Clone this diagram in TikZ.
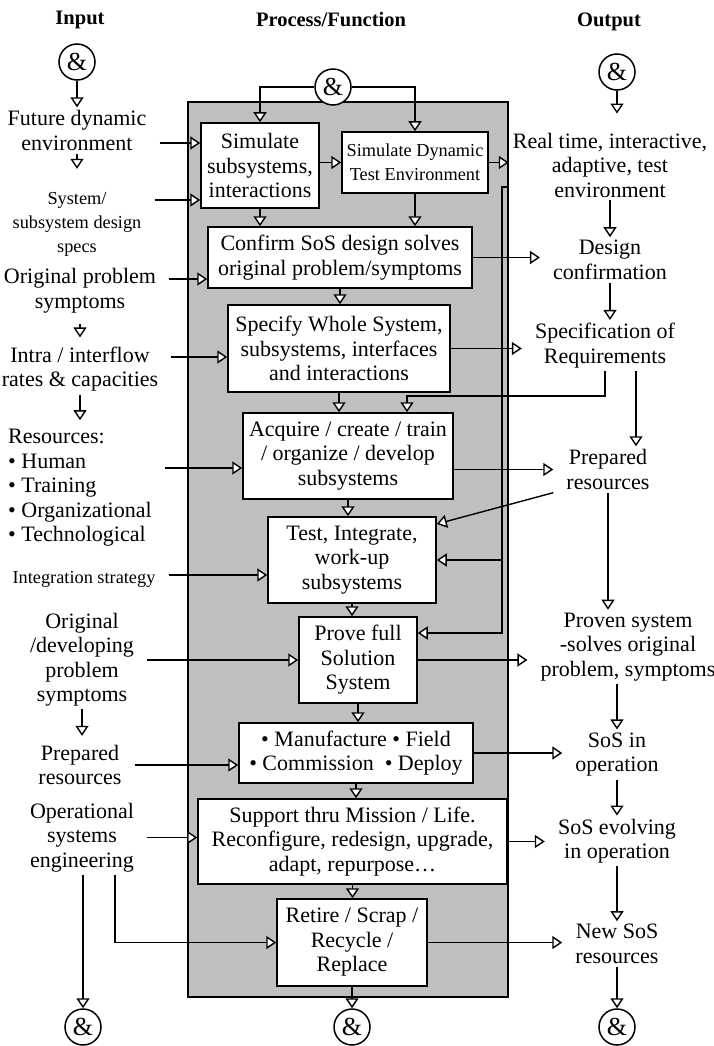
\documentclass[tikz,border=0pt]{standalone}
\usepackage{fontspec}
\setmainfont{Liberation Serif}
\usetikzlibrary{arrows.meta}
\usetikzlibrary{positioning}

\begin{document}
\begin{tikzpicture}[x=1pt,y=-1pt,
    txt/.style={align=center,font=\fontsize{22}{24.5}\selectfont,inner xsep=13pt,inner ysep=3pt},
    sml/.style={font=\fontsize{18.3}{24}\selectfont},
    ttl/.style={font=\bfseries\fontsize{20.5}{24}\selectfont},
    box/.style={txt,draw,fill=white,line width=1.5pt,inner sep=0pt},
    amp/.style={circle,draw,fill=white,line width=1.5pt,minimum size=36pt,inner sep=0pt,font=\fontsize{26}{26}\selectfont},
    ln/.style={line width=1.4pt},
    arr/.style={ln,-{Triangle[fill=white,length=10pt,width=13pt]}}]
  \useasboundingbox (0,0) rectangle (714,1046);
  \node[draw,fill=gray!50,line width=1.5pt,minimum width=320pt,minimum height=895pt,inner sep=0pt] (proc) at (348,549.5) {};

  \node[ttl] (tin) at (80,20) {Input};
  \node[ttl] (tproc) at (331,20) {Process/Function};
  \node[ttl] (tout) at (609,22) {Output};

  \node[amp] (ain) at (77,62) {\&};
  \node[amp] (aproc) at (333,87) {\&};
  \node[amp] (aout) at (617,72) {\&};
  \node[amp] (ainb) at (83,1027) {\&};
  \node[amp] (aprocb) at (352,1027) {\&};
  \node[amp] (aoutb) at (617,1027) {\&};

  % process boxes
  \node[box,minimum width=118pt,minimum height=85pt] (b1) at (260,165.5) {Simulate\\subsystems,\\interactions};
  \node[box,sml,minimum width=146pt,minimum height=61pt] (b2) at (415,162.5) {Simulate Dynamic\\Test Environment};
  \node[box,minimum width=264pt,minimum height=61pt] (b3) at (340,257.5) {Confirm SoS design solves\\original problem/symptoms};
  \node[box,minimum width=222pt,minimum height=87pt] (b4) at (339,348.5) {Specify Whole System,\\subsystems, interfaces\\and interactions};
  \node[box,minimum width=210pt,minimum height=86pt] (b5) at (348,456) {Acquire / create / train\\/ organize / develop\\subsystems};
  \node[box,minimum width=168pt,minimum height=86pt] (b6) at (352,560) {Test, Integrate,\\work-up\\subsystems};
  \node[box,minimum width=118pt,minimum height=86pt] (b7) at (358,660) {Prove full\\Solution\\System};
  \node[box,minimum width=234pt,minimum height=60pt] (b8) at (356,753) {\textbullet{} Manufacture \textbullet{} Field\\\textbullet{} Commission\ \ \textbullet{} Deploy};
  \node[box,minimum width=309pt,minimum height=85pt] (b9) at (352.5,841.5) {Support thru Mission / Life.\\Reconfigure, redesign, upgrade,\\adapt, repurpose…};
  \node[box,minimum width=150pt,minimum height=87pt] (b10) at (352,942.5) {Retire / Scrap /\\Recycle /\\Replace};

  % inputs
  \node[txt] (fde) at (77,130.5) {Future dynamic\\environment};
  \node[txt,sml] (sds) at (77,224) {System/\\subsystem design\\specs};
  \node[txt] (ops) at (80,290.5) {Original problem\\symptoms};
  \node[txt] (iic) at (80,369) {Intra / interflow\\rates \& capacities};
  \node[txt,align=left,anchor=west] (res) at (-5,488) {Resources:\\\textbullet{} Human\\\textbullet{} Training\\\textbullet{} Organizational\\\textbullet{} Technological};
  \node[txt,sml] (ist) at (84,579) {Integration strategy};
  \node[txt] (odp) at (82,659.5) {Original\\/developing\\problem\\symptoms};
  \node[txt] (prl) at (80,765) {Prepared\\resources};
  \node[txt] (ose) at (82,837.5) {Operational\\systems\\engineering};

  % outputs
  \node[txt] (rti) at (610,165) {Real time, interactive,\\adaptive, test\\environment};
  \node[txt] (dcf) at (610,260) {Design\\confirmation};
  \node[txt] (sor) at (605,345.5) {Specification of\\Requirements};
  \node[txt] (prr) at (608,469.5) {Prepared\\resources};
  \node[txt] (prv) at (628,647) {Proven system\\-solves original\\problem, symptoms};
  \node[txt] (sio) at (617,754.5) {SoS in\\operation};
  \node[txt] (sev) at (617,841) {SoS evolving\\in operation};
  \node[txt] (nsr) at (617,944) {New SoS\\resources};

  \draw[arr] (aproc.west) -| (b1.north);
  \draw[arr] (aproc.east) -| (b2.north);
  \draw[arr] (b1.east |- b2.west) -- (b2.west);
  \draw[arr] (b2.east) -- (b2.east -| proc.east);
  \draw[arr] (b1.south) -- (b1.south |- b3.north);
  \draw[arr] (b2.south) -- (b2.south |- b3.north);
  \draw[arr] (b3.south) -- (b3.south |- b4.north);
  \draw[arr] (b4.south) -- (b4.south |- b5.north);
  \draw[arr] (b5.south) -- (b5.south |- b6.north);
  \draw[arr] (b6.south) -- (b6.south |- b7.north);
  \draw[arr] (b7.south) -- (b7.south |- b8.north);
  \draw[arr] (b8.south) -- (b8.south |- b9.north);
  \draw[arr] (b9.south) -- (b9.south |- b10.north);
  \draw[arr] (b10.south) -- (aprocb.north);

  \coordinate (fb) at (502,187);
  \draw[arr] (proc.east |- fb) -- (fb) |- (b7.east |- 0,633);
  \draw[arr] (fb |- b6.east) -- (b6.east);

  \draw[arr] (ain.south) -- (ain.south |- fde.north);
  \draw[arr,shorten >=20pt] (fde.south) -- (fde.south |- sds.north);
  \draw[arr,shorten <=8pt,shorten >=6pt] (ops.south) -- (ops.south |- iic.north);
  \draw[arr,shorten >=6pt] (iic.south) -- (iic.south |- res.north);
  \draw[arr,shorten >=6pt] (odp.south) -- (odp.south |- prl.north);
  \draw[arr] (fde.east |- 0,143) -- (b1.west |- 0,143);
  \draw[arr] (sds.east |- 0,200) -- (b1.west |- 0,200);
  \draw[arr] (ops.east |- 0,279) -- (b3.west |- 0,279);
  \draw[arr] (iic.east |- 0,357) -- (b4.west |- 0,357);
  \draw[arr] (res.east |- 0,468) -- (b5.west |- 0,468);
  \draw[arr] (ist.east |- 0,575) -- (b6.west |- 0,575);
  \draw[arr] (odp.east |- b7.west) -- (b7.west);
  \draw[arr] (prl.east) -- (prl.east -| b8.west);
  \draw[arr] (ose.east) -- (ose.east -| b9.west);
  \draw[arr] (ose.south -| 115,0) |- (b10.west);
  \draw[arr] (ose.south -| ainb.north) -- (ainb.north);

  \draw[arr,shorten >=16pt] (aout.south) -- (aout.south |- rti.north);
  \draw[arr] (rti.south) -- (rti.south |- dcf.north);
  \draw[arr] (dcf.south) -- (dcf.south |- sor.north);
  \draw[arr] (sor.south -| 636,0) -- (prr.north -| 636,0);
  \draw[arr] (sor.south) -- (sor.south |- 0,396) -| (b5.north -| 407,0);
  \draw[arr] (prr.south) -- (prr.south |- prv.north);
  \draw[arr] (prr.south west) -- (b6.east |- 0,524);
  \draw[arr] (prv.south -| sio.north) -- (sio.north);
  \draw[arr] (sio.south) -- (sev.north);
  \draw[arr] (sev.south) -- (nsr.north);
  \draw[arr] (nsr.south) -- (aoutb.north);
  \draw[arr] (b3.east) -- (b3.east -| dcf.west);
  \draw[arr] (b4.east) -- (b4.east -| sor.west);
  \draw[arr] (b5.east |- prr.west) -- (prr.west);
  \draw[arr] (b7.east) -- (b7.east -| prv.west);
  \draw[arr] (b8.east) -- (b8.east -| sio.west);
  \draw[arr] (b9.east) -- (b9.east -| sev.west);
  \draw[arr] (b10.east) -- (b10.east -| nsr.west);
\end{tikzpicture}
\end{document}
